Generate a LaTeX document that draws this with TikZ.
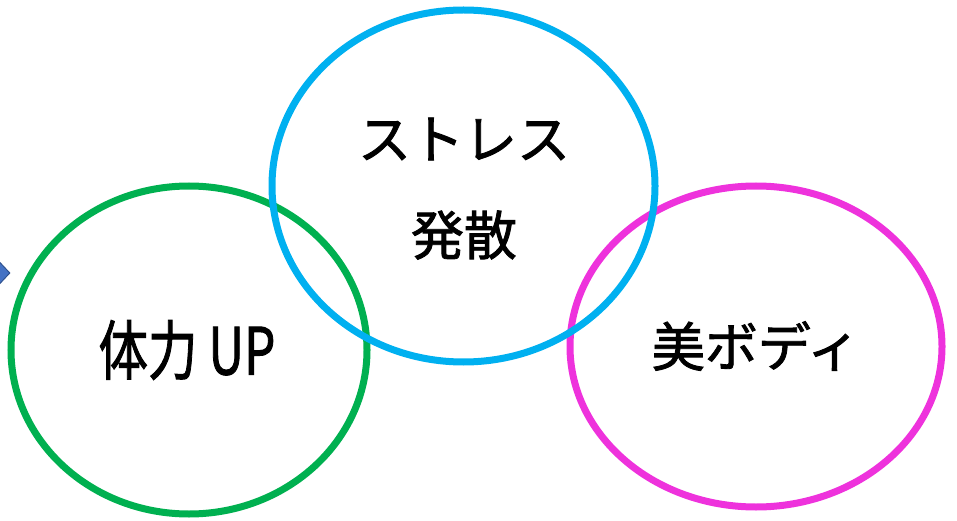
\documentclass[tikz,border=0pt]{standalone}
\usepackage{fontspec}
\newfontfamily\jp[FakeBold=1.6]{Noto Sans CJK JP}
\usetikzlibrary{shapes.geometric}
\definecolor{cgreen}{RGB}{0,176,80}
\definecolor{cblue}{RGB}{0,176,240}
\definecolor{cmag}{RGB}{238,50,220}
\definecolor{dfill}{RGB}{68,114,196}
\definecolor{ddraw}{RGB}{47,82,143}
\tikzset{
  ring/.style={ellipse, draw, line width=7pt, inner sep=0pt},
  lbl/.style={inner sep=0pt, font=\jp\fontsize{53}{60}\selectfont}
}
\begin{document}
\begin{tikzpicture}[x=1pt,y=-1pt]
\useasboundingbox (0,0) rectangle (957,521);
\node[diamond, fill=dfill, draw=ddraw, line width=1pt, minimum width=32pt, minimum height=34pt, inner sep=0pt] (arr) at (-6,273) {};
\node[ring, draw=cgreen, minimum width=356pt, minimum height=328pt] (g) at (189,350) {};
\node[ring, draw=cmag, minimum width=372pt, minimum height=321pt] (m) at (756,346.5) {};
\node[ring, draw=cblue, minimum width=383pt, minimum height=352pt] (b) at (463.5,186) {};
\node[lbl] (t1) at (464,139) {ストレス};
\node[lbl] (t2) at (464,235) {発散};
\node[lbl, font=\jp\fontsize{65}{70}\selectfont, xscale=0.76] (t3) at (187,350) {体力 UP};
\node[lbl] (t4) at (756,346) {美ボディ};
\end{tikzpicture}
\end{document}
